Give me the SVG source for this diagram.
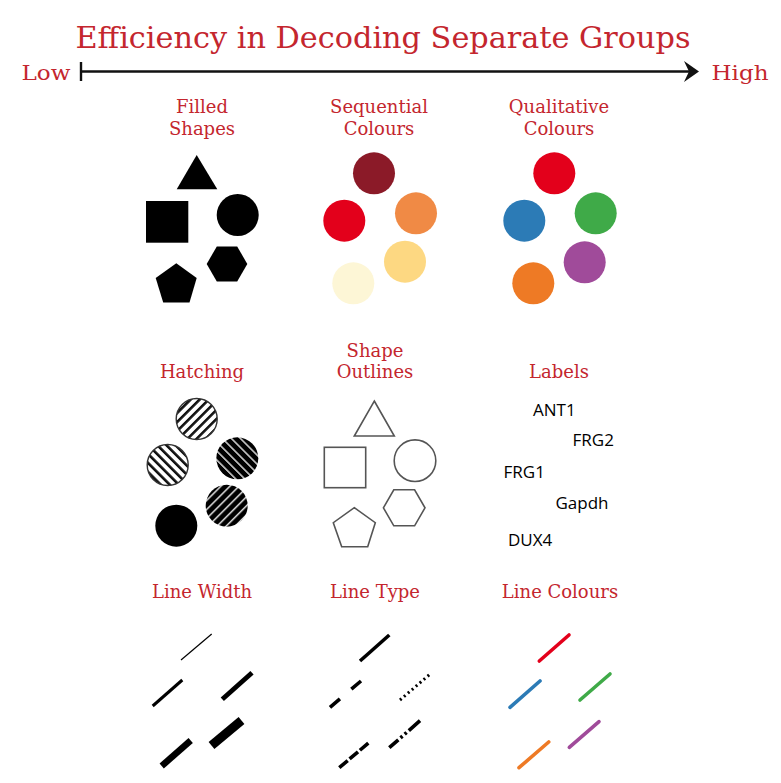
<svg xmlns="http://www.w3.org/2000/svg" width="781" height="783" viewBox="0 0 781 783">
<style>
.t{font-family:"DejaVu Serif","Liberation Serif",serif;fill:#c4262e;text-anchor:middle;font-size:18px}
.lab{font-family:"Open Sans","DejaVu Sans",sans-serif;font-size:17px;font-weight:500;fill:#000}
.ol{fill:none;stroke:#555;stroke-width:1.6}
.ln{stroke:#000;fill:none}
.cl{stroke-width:3.6;stroke-linecap:round;fill:none}
</style>
<defs>
<pattern id="hs" patternUnits="userSpaceOnUse" width="6.4" height="6.4" patternTransform="rotate(45)"><rect width="6.4" height="6.4" fill="#fff"/><rect width="2.6" height="6.4" fill="#111"/></pattern>
<pattern id="bs" patternUnits="userSpaceOnUse" width="6.4" height="6.4" patternTransform="rotate(-45)"><rect width="6.4" height="6.4" fill="#fff"/><rect width="2.6" height="6.4" fill="#111"/></pattern>
<pattern id="wb" patternUnits="userSpaceOnUse" width="6.4" height="6.4" patternTransform="rotate(-45)"><rect width="6.4" height="6.4" fill="#000"/><rect width="1.5" height="6.4" fill="#ddd"/></pattern>
<pattern id="ws" patternUnits="userSpaceOnUse" width="6.4" height="6.4" patternTransform="rotate(45)"><rect width="6.4" height="6.4" fill="#000"/><rect width="1.5" height="6.4" fill="#ddd"/></pattern>
</defs>
<rect width="781" height="783" fill="#fff"/>
<g id="header">
<text x="383" y="48" font-family="DejaVu Serif,Liberation Serif,serif" font-size="29" fill="#c4262e" text-anchor="middle" textLength="615" lengthAdjust="spacingAndGlyphs">Efficiency in Decoding Separate Groups</text>
<text x="46" y="80" font-family="DejaVu Serif,Liberation Serif,serif" font-size="20" fill="#c4262e" text-anchor="middle" textLength="49" lengthAdjust="spacingAndGlyphs">Low</text>
<text x="740" y="80" font-family="DejaVu Serif,Liberation Serif,serif" font-size="20" fill="#c4262e" text-anchor="middle" textLength="57" lengthAdjust="spacingAndGlyphs">High</text>
</g>
<g id="connectors">
<line x1="81" y1="62" x2="81" y2="81" stroke="#111" stroke-width="2.4"/>
<line x1="81" y1="71.5" x2="690" y2="71.5" stroke="#111" stroke-width="2.6"/>
<path d="M684,61 L699,71.5 L684,82 L689,71.5 Z" fill="#111"/>
</g>
<g id="filled-shapes">
<text class="t" x="202" y="113">Filled</text>
<text class="t" x="202" y="135">Shapes</text>
<polygon points="196.7,155 217.3,189.3 176.7,189.3" fill="#000"/>
<rect x="146" y="201" width="42.3" height="41.7" fill="#000"/>
<circle cx="237.7" cy="215" r="21" fill="#000"/>
<polygon points="206.7,264 216.8,246.4 237.2,246.4 247.3,264 237.2,281.6 216.8,281.6" fill="#000"/>
<polygon points="176.3,263.3 196.7,278 189.5,302.5 163.2,302.5 155.7,278" fill="#000"/>
</g>
<g id="sequential-colours">
<text class="t" x="379" y="113">Sequential</text>
<text class="t" x="379" y="135">Colours</text>
<circle cx="374" cy="173.3" r="21" fill="#8b1a28"/>
<circle cx="344.3" cy="220.7" r="21" fill="#e3001b"/>
<circle cx="416" cy="213.3" r="21" fill="#f08a45"/>
<circle cx="405" cy="261.7" r="21" fill="#fdd882"/>
<circle cx="353.3" cy="283.3" r="21" fill="#fdf6d6"/>
</g>
<g id="qualitative-colours">
<text class="t" x="559" y="113">Qualitative</text>
<text class="t" x="559" y="135">Colours</text>
<circle cx="554.3" cy="173.3" r="21" fill="#e3001b"/>
<circle cx="524.3" cy="220.7" r="21" fill="#2c7bb6"/>
<circle cx="595.7" cy="213.3" r="21" fill="#3faa48"/>
<circle cx="584.7" cy="262.3" r="21" fill="#a04b9a"/>
<circle cx="533.3" cy="283.3" r="21" fill="#ee7a25"/>
</g>
<g id="hatching">
<text class="t" x="202" y="378">Hatching</text>
<circle cx="196.7" cy="419" r="20.5" fill="url(#hs)" stroke="#333" stroke-width="1.4"/>
<circle cx="167.7" cy="465" r="20.5" fill="url(#bs)" stroke="#333" stroke-width="1.4"/>
<circle cx="237.3" cy="458.3" r="21" fill="url(#wb)"/>
<circle cx="226.7" cy="505.7" r="21" fill="url(#ws)"/>
<circle cx="176.3" cy="525.7" r="21" fill="#000"/>
</g>
<g id="shape-outlines">
<text class="t" x="375" y="357">Shape</text>
<text class="t" x="375" y="378">Outlines</text>
<polygon class="ol" points="374.3,401 394.3,436 354.3,436"/>
<rect class="ol" x="324.3" y="447.3" width="41.4" height="40.4"/>
<circle class="ol" cx="415" cy="460.7" r="20.8"/>
<polygon class="ol" points="383.4,507.8 393.8,489.8 414.6,489.8 425,507.8 414.6,525.8 393.8,525.8"/>
<polygon class="ol" points="354.3,507.7 375.3,522.7 367.7,546.7 341.7,546.7 333.3,522.7"/>
</g>
<g id="labels">
<text class="t" x="559" y="378">Labels</text>
<text class="lab" x="533" y="416">ANT1</text>
<text class="lab" x="572.5" y="446">FRG2</text>
<text class="lab" x="503.5" y="477.5">FRG1</text>
<text class="lab" x="555.5" y="509">Gapdh</text>
<text class="lab" x="508" y="546">DUX4</text>
</g>
<g id="line-width">
<text class="t" x="202" y="598">Line Width</text>
<line class="ln" x1="181" y1="660" x2="211.7" y2="634" stroke-width="1.2"/>
<line class="ln" x1="152.7" y1="706" x2="182.3" y2="680" stroke-width="3"/>
<line class="ln" x1="222.3" y1="699.3" x2="252" y2="672.7" stroke-width="4.8"/>
<line class="ln" x1="161.7" y1="766" x2="190.7" y2="740.5" stroke-width="6.5"/>
<line class="ln" x1="211.5" y1="745.5" x2="241.5" y2="720.5" stroke-width="9"/>
</g>
<g id="line-type">
<text class="t" x="375" y="598">Line Type</text>
<line class="ln" x1="360" y1="661" x2="389.3" y2="635" stroke-width="3.6"/>
<line class="ln" x1="330" y1="707.3" x2="361" y2="681" stroke-width="3.6" stroke-dasharray="13 15"/>
<line class="ln" x1="400" y1="700" x2="431" y2="673.3" stroke-width="3" stroke-dasharray="2 3.2"/>
<line class="ln" x1="339.3" y1="767.7" x2="370" y2="741.7" stroke-width="3.6" stroke-dasharray="11 2.5"/>
<line class="ln" x1="389.3" y1="747.7" x2="420" y2="720.7" stroke-width="3.6" stroke-dasharray="12 3 2.5 3 2.5 3 15"/>
</g>
<g id="line-colours">
<text class="t" x="560" y="598">Line Colours</text>
<line class="cl" x1="539.3" y1="661" x2="569" y2="635" stroke="#e3001b"/>
<line class="cl" x1="510" y1="707.3" x2="540" y2="681" stroke="#2c7bb6"/>
<line class="cl" x1="580" y1="700" x2="610" y2="674" stroke="#3faa48"/>
<line class="cl" x1="519" y1="767.7" x2="548.7" y2="742" stroke="#ee7a25"/>
<line class="cl" x1="569.3" y1="747.3" x2="599" y2="721.7" stroke="#a04b9a"/>
</g>
</svg>
